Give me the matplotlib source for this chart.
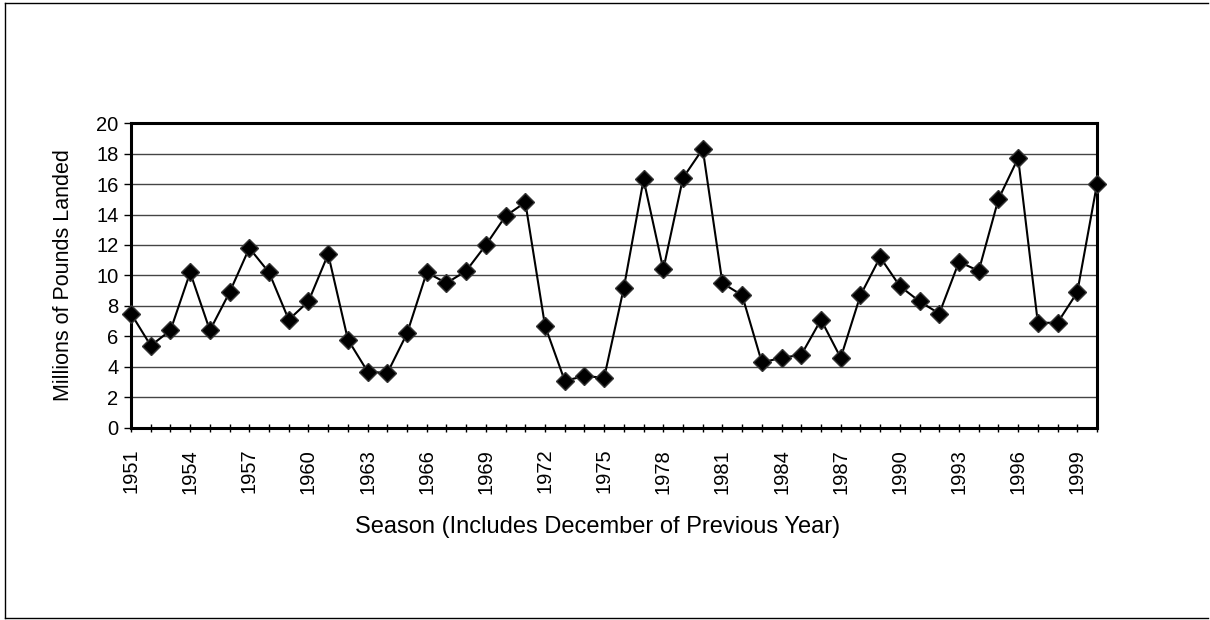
import matplotlib
matplotlib.use("Agg")
import matplotlib.pyplot as plt
from matplotlib.lines import Line2D
from matplotlib.ticker import MultipleLocator

plt.rcParams['font.family'] = ['Liberation Sans', 'DejaVu Sans']

# landings by season, millions of pounds
seasons = list(range(1951, 2001))
landed = [7.5, 5.4, 6.4, 10.2, 6.4, 8.9, 11.8, 10.2, 7.1, 8.3,
          11.4, 5.8, 3.7, 3.6, 6.2, 10.2, 9.5, 10.3, 12.0, 13.9,
          14.8, 6.7, 3.1, 3.4, 3.3, 9.2, 16.3, 10.4, 16.4, 18.3,
          9.5, 8.7, 4.3, 4.6, 4.8, 7.1, 4.6, 8.7, 11.2, 9.3,
          8.3, 7.5, 10.9, 10.3, 15.0, 17.7, 6.9, 6.9, 8.9, 16.0]
tick_years = list(range(1951, 2000, 3))

fig = plt.figure(figsize=(12.1, 6.2), dpi=100)
ax = fig.add_axes([0.1083, 0.3097, 0.7983, 0.4919])

ax.plot(seasons, landed, color='black', lw=1.5, marker='D', ms=9,
        markerfacecolor='black', markeredgecolor='#333333', zorder=3,
        clip_on=False)

ax.set_xlim(1951, 2000)
ax.set_ylim(0, 20)
ax.yaxis.set_major_locator(MultipleLocator(2))
ax.set_xticks(tick_years)
ax.set_xticklabels([str(y) for y in tick_years], rotation=90, fontsize=14.5)
ax.xaxis.set_minor_locator(MultipleLocator(1))
ax.tick_params(axis='y', labelsize=14.5, length=5, direction='out', width=1, pad=4)
ax.tick_params(axis='x', which='both', length=6, direction='inout', width=1, pad=12)
ax.grid(axis='y', color='#444444', lw=1)
ax.set_axisbelow(True)
for sp in ax.spines.values():
    sp.set_linewidth(2.2)
    sp.set_color('black')

ax.set_ylabel('Millions of Pounds Landed', fontsize=15.5, labelpad=16)
ax.set_xlabel('Season (Includes December of Previous Year)', fontsize=17)
ax.xaxis.set_label_coords(0.483, -0.29)

# outer frame around the chart
fx = lambda px: px / 1210
fy = lambda py: 1 - py / 620
fig.add_artist(Line2D([fx(5), fx(5)], [fy(3), fy(618)], color='black', lw=1))
fig.add_artist(Line2D([fx(5), fx(1208)], [fy(3), fy(3)], color='black', lw=1))
fig.add_artist(Line2D([fx(5), fx(1208)], [fy(618), fy(618)], color='black', lw=1))

fig.savefig('out.png', dpi=100, facecolor='white')
